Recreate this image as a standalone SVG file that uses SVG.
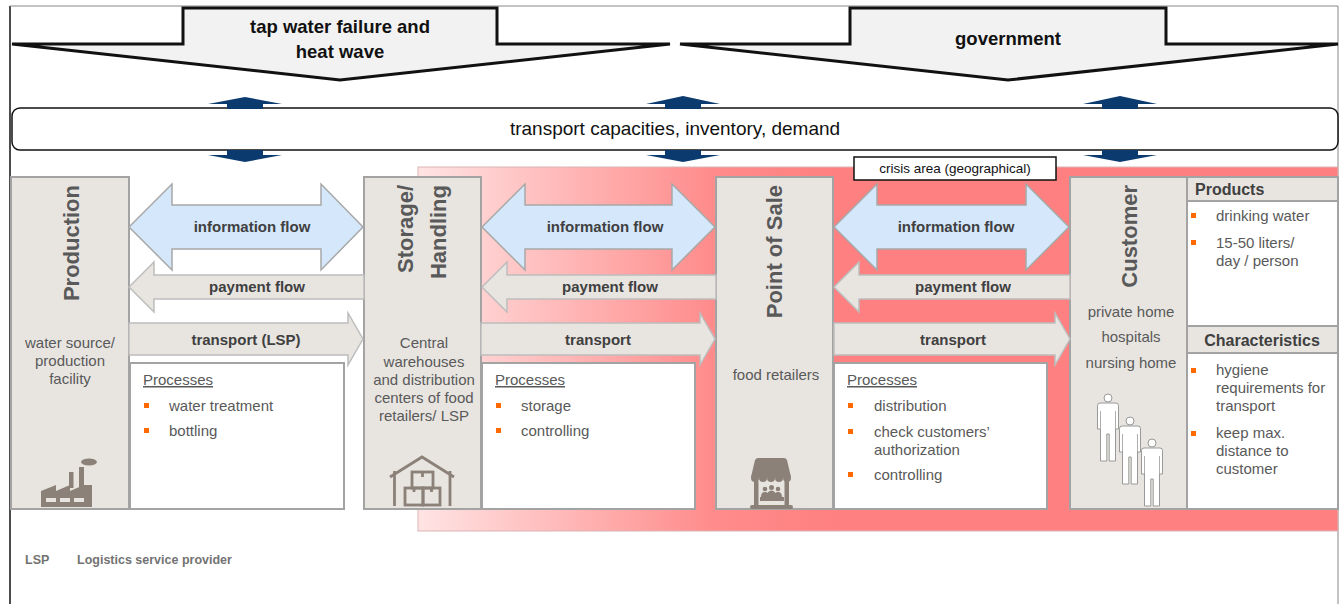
<svg xmlns="http://www.w3.org/2000/svg" xmlns:xlink="http://www.w3.org/1999/xlink" width="1340" height="604" viewBox="0 0 1340 604">
<style>
  .big{font-family:"Liberation Sans",Arial,sans-serif;font-weight:bold;font-size:18.5px;fill:#111;text-anchor:middle}
  .bar{font-family:"Liberation Sans",Arial,sans-serif;font-size:19px;fill:#111;text-anchor:middle}
  .node{fill:#e8e5e1;stroke:#a3a3a3;stroke-width:2}
  .white{fill:#fff;stroke:#a3a3a3;stroke-width:2}
  .title{font-family:"Liberation Sans",Arial,sans-serif;font-weight:bold;font-size:22px;fill:#595959;text-anchor:end}
  .sub{font-family:"Liberation Sans",Arial,sans-serif;font-size:15px;fill:#595959;text-anchor:middle}
  .txt{font-family:"Liberation Sans",Arial,sans-serif;font-size:15px;fill:#595959}
  .hdr{font-family:"Liberation Sans",Arial,sans-serif;font-weight:bold;font-size:16px;fill:#404040}
  .flow{font-family:"Liberation Sans",Arial,sans-serif;font-weight:bold;font-size:15px;fill:#404040;text-anchor:middle}
  .info{fill:#d5e8fb;stroke:#a8a8a8;stroke-width:1.5}
  .grey{fill:#e8e5e1;stroke:#bdbdbd;stroke-width:1.5}
  .navy{fill:#0b3a6e}
  .bul{fill:#ff6a00}
  .icon{fill:#8b8178}
  .iconl{fill:none;stroke:#8b8178;stroke-width:2.8}
  .foot{font-family:"Liberation Sans",Arial,sans-serif;font-weight:bold;font-size:12.5px;fill:#737373}
</style>
<defs>
  <linearGradient id="crisis" gradientUnits="userSpaceOnUse" x1="418" y1="0" x2="835" y2="0">
    <stop offset="0" stop-color="#ffe4e4"/>
    <stop offset="0.7" stop-color="#ff8c8c"/>
    <stop offset="1" stop-color="#ff8080"/>
  </linearGradient>
  <g id="person">
    <circle cx="0" cy="-5" r="4" fill="#fff" stroke="#999" stroke-width="1"/>
    <path d="M-8,0 H8 Q10.5,0 10.5,2.5 V26 H7.5 V58 H1.2 V31 H-1.2 V58 H-7.5 V26 H-10.5 V2.5 Q-10.5,0 -8,0 Z" fill="#fff" stroke="#999" stroke-width="1"/>
    <path d="M-7.5,8 V26 M7.5,8 V26" fill="none" stroke="#999" stroke-width="0.8"/>
  </g>
</defs>

<rect width="1340" height="604" fill="#fff"/>
<!-- outer frame -->
<path d="M10,604 V6" stroke="#111" stroke-width="1.5" fill="none"/>
<path d="M10,6 H1338 V604" stroke="#888" stroke-width="1" fill="none"/>

<!-- top impact arrows -->
<g id="tap-water-failure">
  <path d="M183,8 H497 V44 H670 L340,80 L12,44 H183 Z" fill="#f2f2f2" stroke="#111" stroke-width="3"/>
  <text class="big" x="340" y="33">tap water failure and</text>
  <text class="big" x="340" y="58">heat wave</text>
</g>
<g id="government">
  <path d="M850,8 H1166 V44 H1338 L1008,80 L680,44 H850 Z" fill="#f2f2f2" stroke="#111" stroke-width="3"/>
  <text class="big" x="1008" y="45">government</text>
</g>

<!-- crisis area -->
<g id="crisis-area">
  <rect x="418" y="167" width="920" height="364" fill="url(#crisis)" stroke="#d9b3b3" stroke-width="1"/>
</g>

<!-- information bar -->
<g id="info-bar">
  <rect x="12" y="108" width="1326" height="42" rx="8" fill="#fff" stroke="#111" stroke-width="1.5"/>
  <text class="bar" x="675" y="135">transport capacities, inventory, demand</text>
</g>

<g id="crisis-label">
  <rect x="854" y="157" width="202" height="23" fill="#fff" stroke="#111" stroke-width="1.5"/>
  <text x="955" y="173" font-family="Liberation Sans, Arial, sans-serif" font-size="13.5" fill="#111" text-anchor="middle">crisis area (geographical)</text>
</g>

<!-- nodes -->
<g id="production">
  <rect class="node" x="11" y="177" width="118" height="332"/>
  <text class="title" transform="translate(79,185) rotate(-90)">Production</text>
  <text class="sub" x="70" y="348">water source/</text>
  <text class="sub" x="70" y="366">production</text>
  <text class="sub" x="70" y="384">facility</text>
  <g>
    <path class="icon" d="M41,507 V491 L56,485 V491 L70,485 V491 L84,485 H92 V507 Z"/>
    <rect class="icon" x="69" y="472" width="4.5" height="16"/>
    <rect class="icon" x="79" y="467" width="5" height="20"/>
    <ellipse class="icon" cx="89" cy="462" rx="8" ry="3.5"/>
    <rect x="46" y="498" width="10" height="4" fill="#e8e5e1"/>
    <rect x="60" y="498" width="10" height="4" fill="#e8e5e1"/>
    <rect x="74" y="498" width="10" height="4" fill="#e8e5e1"/>
  </g>
</g>

<g id="storage-handling">
  <rect class="node" x="364" y="177" width="117" height="332"/>
  <text class="title" transform="translate(413,185) rotate(-90)">Storage/</text>
  <text class="title" transform="translate(446,185) rotate(-90)">Handling</text>
  <text class="sub" x="424" y="348">Central</text>
  <text class="sub" x="424" y="367">warehouses</text>
  <text class="sub" x="424" y="385">and distribution</text>
  <text class="sub" x="424" y="403">centers of food</text>
  <text class="sub" x="424" y="421">retailers/ LSP</text>
  <g>
    <path class="iconl" d="M390,477 L422,457 L454,477 M394.5,471 V506 M450,471 V506"/>
    <rect class="iconl" x="412" y="472" width="21" height="16" stroke-width="2.4"/>
    <rect class="iconl" x="405" y="488" width="18" height="17" stroke-width="2.4"/>
    <rect class="iconl" x="423" y="488" width="17" height="17" stroke-width="2.4"/>
    <path class="iconl" d="M422.5,472 V477 M414,488 V492 M431.5,488 V492" stroke-width="2"/>
  </g>
</g>

<g id="point-of-sale">
  <rect class="node" x="716" y="177" width="117" height="332"/>
  <text class="title" transform="translate(782,185) rotate(-90)">Point of Sale</text>
  <text class="sub" x="776" y="380">food retailers</text>
  <g>
    <path class="icon" d="M758,458 H784 Q786,458 787,460 L791,477 H751 L755,460 Q756,458 758,458 Z"/>
    <circle class="icon" cx="755" cy="478" r="4"/>
    <circle class="icon" cx="763" cy="478" r="4"/>
    <circle class="icon" cx="771" cy="478" r="4"/>
    <circle class="icon" cx="779" cy="478" r="4"/>
    <circle class="icon" cx="787" cy="478" r="4"/>
    <rect class="icon" x="754" y="481" width="4.5" height="26"/>
    <rect class="icon" x="784.5" y="481" width="4.5" height="26"/>
    <rect class="icon" x="750" y="505" width="43" height="4" rx="2"/>
    <rect class="icon" x="760" y="497" width="24" height="4"/>
    <circle class="icon" cx="765" cy="489" r="2.3"/>
    <circle class="icon" cx="771.5" cy="487.5" r="2.5"/>
    <circle class="icon" cx="778" cy="489" r="2.3"/>
    <path class="icon" d="M761,497 Q761,492 765,492 Q769,492 769,497 Z M767,497 Q767,490.5 771.5,490.5 Q776,490.5 776,497 Z M774,497 Q774,492 778,492 Q782,492 782,497 Z"/>
  </g>
</g>

<g id="customer">
  <rect class="node" x="1070" y="177" width="117" height="332"/>
  <text class="title" transform="translate(1137,185) rotate(-90)">Customer</text>
  <text class="sub" x="1131" y="317">private home</text>
  <text class="sub" x="1131" y="342">hospitals</text>
  <text class="sub" x="1131" y="368">nursing home</text>
  <use xlink:href="#person" href="#person" x="1108" y="403"/>
  <use xlink:href="#person" href="#person" x="1130" y="426"/>
  <use xlink:href="#person" href="#person" x="1152" y="448"/>
</g>

<g id="products">
  <rect class="white" x="1187" y="177" width="151" height="149"/>
  <rect class="node" x="1187" y="177" width="151" height="24"/>
  <text class="hdr" x="1195" y="195" font-size="16.5">Products</text>
  <rect class="bul" x="1191" y="213" width="5" height="5"/>
  <text class="txt" x="1216" y="221">drinking water</text>
  <rect class="bul" x="1191" y="240" width="5" height="5"/>
  <text class="txt" x="1216" y="248">15-50 liters/</text>
  <text class="txt" x="1216" y="266">day / person</text>
</g>

<g id="characteristics">
  <rect class="white" x="1187" y="326" width="151" height="183"/>
  <rect class="node" x="1187" y="326" width="151" height="27"/>
  <text class="hdr" x="1262" y="346" text-anchor="middle">Characteristics</text>
  <rect class="bul" x="1191" y="368" width="5" height="5"/>
  <text class="txt" x="1216" y="375">hygiene</text>
  <text class="txt" x="1216" y="393">requirements for</text>
  <text class="txt" x="1216" y="411">transport</text>
  <rect class="bul" x="1191" y="431" width="5" height="5"/>
  <text class="txt" x="1216" y="438">keep max.</text>
  <text class="txt" x="1216" y="456">distance to</text>
  <text class="txt" x="1216" y="474">customer</text>
</g>

<!-- process boxes -->
<g id="processes-production">
  <rect class="white" x="130" y="363" width="214" height="146"/>
  <text class="txt" x="143" y="385" text-decoration="underline">Processes</text>
  <rect class="bul" x="144" y="403" width="5" height="5"/>
  <text class="txt" x="169" y="411">water treatment</text>
  <rect class="bul" x="144" y="428" width="5" height="5"/>
  <text class="txt" x="169" y="436">bottling</text>
</g>
<g id="processes-storage">
  <rect class="white" x="482" y="363" width="213" height="146"/>
  <text class="txt" x="495" y="385" text-decoration="underline">Processes</text>
  <rect class="bul" x="496" y="403" width="5" height="5"/>
  <text class="txt" x="521" y="411">storage</text>
  <rect class="bul" x="496" y="428" width="5" height="5"/>
  <text class="txt" x="521" y="436">controlling</text>
</g>
<g id="processes-pos">
  <rect class="white" x="834" y="363" width="213" height="146"/>
  <text class="txt" x="847" y="385" text-decoration="underline">Processes</text>
  <rect class="bul" x="848" y="403" width="5" height="5"/>
  <text class="txt" x="874" y="411">distribution</text>
  <rect class="bul" x="848" y="429" width="5" height="5"/>
  <text class="txt" x="874" y="437">check customers’</text>
  <text class="txt" x="874" y="455">authorization</text>
  <rect class="bul" x="848" y="472" width="5" height="5"/>
  <text class="txt" x="874" y="480">controlling</text>
</g>

<!-- connectors -->
<g id="connectors">
  <!-- navy bar arrows -->
  <path class="navy" d="M227,109 V104 H208 L245,97 L282,104 H263 V109 Z"/>
  <path class="navy" d="M227,150 V155 H208 L245,162 L282,155 H263 V150 Z"/>
  <path class="navy" d="M665,109 V104 H646 L683,96 L720,104 H701 V109 Z"/>
  <path class="navy" d="M665,150 V155 H646 L683,162 L720,155 H701 V150 Z"/>
  <path class="navy" d="M1102,109 V104 H1083 L1120,96 L1157,104 H1138 V109 Z"/>
  <path class="navy" d="M1102,150 V155 H1083 L1120,162 L1157,155 H1138 V150 Z"/>

  <!-- production <-> storage -->
  <path class="info" d="M129,227 L172,184 V205 H321 V184 L363,227 L321,270 V249 H172 V270 Z"/>
  <text class="flow" x="252" y="232">information flow</text>
  <path class="grey" d="M129,287 L154,262 V275 H364 V299 H154 V312 Z"/>
  <text class="flow" x="257" y="292">payment flow</text>
  <path class="grey" d="M129,323 H348 V313 L363,339 L348,365 V355 H129 Z"/>
  <text class="flow" x="246" y="345">transport (LSP)</text>

  <!-- storage <-> point of sale -->
  <path class="info" d="M482,227 L525,184 V205 H672 V184 L715,227 L672,270 V249 H525 V270 Z"/>
  <text class="flow" x="605" y="232">information flow</text>
  <path class="grey" d="M482,287 L507,262 V275 H716 V299 H507 V312 Z"/>
  <text class="flow" x="610" y="292">payment flow</text>
  <path class="grey" d="M481,323 H700 V313 L715,339 L700,365 V355 H481 Z"/>
  <text class="flow" x="598" y="345">transport</text>

  <!-- point of sale <-> customer -->
  <path class="info" d="M834,227 L877,184 V205 H1026 V184 L1069,227 L1026,270 V249 H877 V270 Z"/>
  <text class="flow" x="956" y="232">information flow</text>
  <path class="grey" d="M834,287 L859,262 V275 H1070 V299 H859 V312 Z"/>
  <text class="flow" x="963" y="292">payment flow</text>
  <path class="grey" d="M834,323 H1055 V313 L1070,339 L1055,365 V355 H834 Z"/>
  <text class="flow" x="953" y="345">transport</text>
</g>

<!-- legend -->
<g id="legend">
  <text class="foot" x="25" y="564">LSP</text>
  <text class="foot" x="77" y="564">Logistics service provider</text>
</g>
</svg>
